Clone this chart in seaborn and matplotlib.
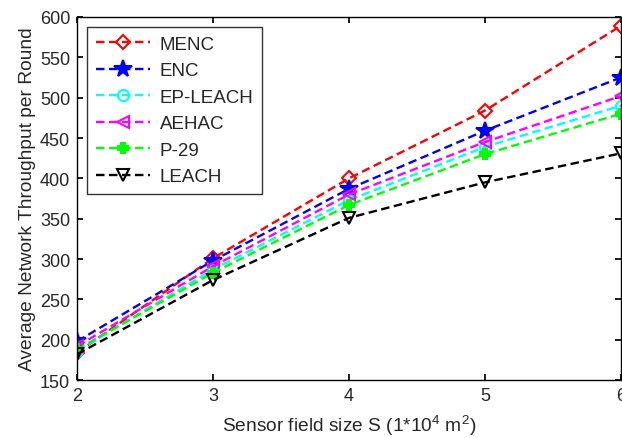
import pandas as pd
import matplotlib
matplotlib.use("Agg")
import matplotlib.pyplot as plt
import seaborn as sns

# Data
field_size = [2, 3, 4, 5, 6]
menc = [184, 301, 400, 484, 589]
enc = [198, 298, 387, 459, 525]
ep_leach = [186, 287, 373, 439, 490]
aehac = [192, 291, 380, 445, 502]
p29 = [188, 283, 367, 430, 480]
leach = [182, 274, 351, 395, 431]

series_names = ['MENC', 'ENC', 'EP-LEACH', 'AEHAC', 'P-29', 'LEACH']
series_values = [menc, enc, ep_leach, aehac, p29, leach]

colors = ['#ff0000', '#0000ff', '#00ffff', '#ff00ff', '#00ff00', '#000000']
markers = ['D', '*', 'o', '<', 'P', 'v']
marker_sizes = [7, 13, 8, 9, 7, 9]
filled = [False, True, False, False, True, False]

rows = []
for name, vals in zip(series_names, series_values):
    for x, y in zip(field_size, vals):
        rows.append({'size': x, 'throughput': y, 'method': name})
data = pd.DataFrame(rows)

sns.set_theme(style="white")
plt.rcParams['font.family'] = ['Liberation Sans', 'DejaVu Sans']
plt.rcParams['mathtext.fontset'] = 'custom'
plt.rcParams['mathtext.rm'] = 'Liberation Sans'

fig = plt.figure(figsize=(6.22, 4.39), dpi=100)
ax = fig.add_axes([0.124, 0.132, 0.874, 0.827])

for name, c, m, ms, f in zip(series_names, colors, markers, marker_sizes, filled):
    sub = data[data['method'] == name]
    sns.lineplot(data=sub, x='size', y='throughput', ax=ax, color=c,
                 marker=m, markersize=ms, linewidth=1.7,
                 markerfacecolor=c if f else 'none', markeredgecolor=c,
                 markeredgewidth=1.5, label=name)
    ax.lines[-1].set_linestyle((0, (3.6, 1.9)))

ax.set_xlim(2, 6)
ax.set_ylim(150, 600)
ax.set_xticks(field_size)
ax.set_yticks(range(150, 601, 50))
ax.tick_params(direction='in', length=4, labelsize=13, color='black',
               top=True, right=True, bottom=True, left=True, pad=5)
for s in ax.spines.values():
    s.set_color('black')
    s.set_linewidth(1.0)

ax.set_xlabel('Sensor field size S (1*10$^4$ m$^2$)', fontsize=13.8, labelpad=6)
ax.set_ylabel('Average Network Throughput per Round', fontsize=13.8, labelpad=3)

leg = ax.legend(loc='upper left', fontsize=13.5, frameon=True, fancybox=False,
                edgecolor='black', handlelength=2.9, handletextpad=0.5,
                borderaxespad=0.55, labelspacing=0.5, borderpad=0.45)
leg.get_frame().set_linewidth(1.0)

plt.savefig('out.png', dpi=100)
